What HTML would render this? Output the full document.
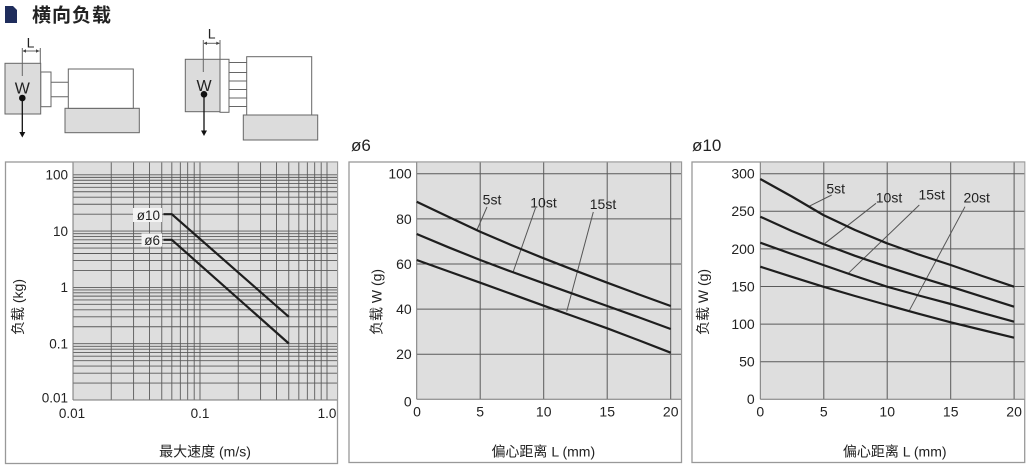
<!DOCTYPE html>
<html><head><meta charset="utf-8">
<style>
html,body{margin:0;padding:0;background:#fff;}
svg{display:block;}
text{font-family:"Liberation Sans","Noto Sans CJK SC",sans-serif;fill:#222;}
</style></head>
<body>
<svg width="1031" height="471" viewBox="0 0 1031 471" xmlns="http://www.w3.org/2000/svg">
<rect width="1031" height="471" fill="#fff"/>

<!-- Header -->
<polygon points="5,6 13,6 17,10 17,23 5,23" fill="#1f2d5c"/>
<text x="32" y="21.5" font-size="19" font-weight="bold" letter-spacing="1" fill="#222">横向负载</text>

<!-- Left diagram -->
<g stroke="#666" stroke-width="1">
  <rect x="65" y="108.3" width="74.3" height="24.4" fill="#dcdcdc"/>
  <rect x="68.3" y="69" width="65" height="39.3" fill="#fff"/>
  <line x1="51" y1="82.3" x2="68.3" y2="82.3"/>
  <line x1="51" y1="96.7" x2="68.3" y2="96.7"/>
  <rect x="40.7" y="72" width="10.3" height="34.7" fill="#fff"/>
  <rect x="5" y="63.3" width="35.7" height="50.7" fill="#dcdcdc"/>
  <line x1="22.3" y1="48" x2="22.3" y2="76"/>
  <line x1="40.3" y1="48" x2="40.3" y2="63.3"/>
  <line x1="23" y1="51" x2="39.6" y2="51"/>
</g>
<polygon points="22.6,51 26,49.3 26,52.7" fill="#444"/>
<polygon points="39.3,51 36,49.3 36,52.7" fill="#444"/>
<text x="30.5" y="47.5" font-size="14" text-anchor="middle">L</text>
<text x="22.3" y="93.5" font-size="16" text-anchor="middle">W</text>
<circle cx="22.3" cy="98" r="3.3" fill="#111"/>
<line x1="22.3" y1="98" x2="22.3" y2="133" stroke="#111" stroke-width="1.3"/>
<polygon points="19.3,132 25.3,132 22.3,137.5" fill="#111"/>

<!-- Right diagram -->
<g stroke="#666" stroke-width="1">
  <rect x="243.3" y="115" width="74.4" height="25" fill="#dcdcdc"/>
  <rect x="246.7" y="56.7" width="65" height="58.3" fill="#fff"/>
  <line x1="229" y1="62.5" x2="246.7" y2="62.5"/>
  <line x1="229" y1="72.5" x2="246.7" y2="72.5"/>
  <line x1="229" y1="81" x2="246.7" y2="81"/>
  <line x1="229" y1="89.5" x2="246.7" y2="89.5"/>
  <line x1="229" y1="98" x2="246.7" y2="98"/>
  <line x1="229" y1="106.5" x2="246.7" y2="106.5"/>
  <rect x="220" y="59.3" width="9" height="53" fill="#fff"/>
  <rect x="185.3" y="59.3" width="34.7" height="52.4" fill="#dcdcdc"/>
  <line x1="203.3" y1="40" x2="203.3" y2="72"/>
  <line x1="220" y1="40" x2="220" y2="59.3"/>
  <line x1="204" y1="43.3" x2="219.3" y2="43.3"/>
</g>
<polygon points="203.6,43.3 207,41.6 207,45" fill="#444"/>
<polygon points="219.7,43.3 216.3,41.6 216.3,45" fill="#444"/>
<text x="211.7" y="38.5" font-size="14" text-anchor="middle">L</text>
<text x="204" y="91" font-size="16" text-anchor="middle">W</text>
<circle cx="204" cy="94.3" r="3.3" fill="#111"/>
<line x1="204" y1="94.3" x2="204" y2="131.5" stroke="#111" stroke-width="1.3"/>
<polygon points="201,130.5 207,130.5 204,136" fill="#111"/>

<!-- ================= LEFT CHART ================= -->
<rect x="5.5" y="162" width="332" height="301.5" fill="#fff" stroke="#999" stroke-width="1.3"/>
<rect x="73" y="162.5" width="264" height="237.5" fill="#dedede"/>
<g stroke="#5a5a5a" stroke-width="0.9">
  <!-- vertical -->
  <line x1="111.23" y1="162.5" x2="111.23" y2="400"/>
  <line x1="133.59" y1="162.5" x2="133.59" y2="400"/>
  <line x1="149.46" y1="162.5" x2="149.46" y2="400"/>
  <line x1="161.77" y1="162.5" x2="161.77" y2="400"/>
  <line x1="171.83" y1="162.5" x2="171.83" y2="400"/>
  <line x1="180.33" y1="162.5" x2="180.33" y2="400"/>
  <line x1="187.69" y1="162.5" x2="187.69" y2="400"/>
  <line x1="194.19" y1="162.5" x2="194.19" y2="400"/>
  <line x1="200" y1="162.5" x2="200" y2="400"/>
  <line x1="238.23" y1="162.5" x2="238.23" y2="400"/>
  <line x1="260.59" y1="162.5" x2="260.59" y2="400"/>
  <line x1="276.46" y1="162.5" x2="276.46" y2="400"/>
  <line x1="288.77" y1="162.5" x2="288.77" y2="400"/>
  <line x1="298.83" y1="162.5" x2="298.83" y2="400"/>
  <line x1="307.33" y1="162.5" x2="307.33" y2="400"/>
  <line x1="314.69" y1="162.5" x2="314.69" y2="400"/>
  <line x1="321.19" y1="162.5" x2="321.19" y2="400"/>
  <line x1="327" y1="162.5" x2="327" y2="400"/>
  <!-- horizontal -->
  <line x1="73" y1="383.05" x2="337" y2="383.05"/>
  <line x1="73" y1="373.14" x2="337" y2="373.14"/>
  <line x1="73" y1="366.1" x2="337" y2="366.1"/>
  <line x1="73" y1="360.65" x2="337" y2="360.65"/>
  <line x1="73" y1="356.19" x2="337" y2="356.19"/>
  <line x1="73" y1="352.42" x2="337" y2="352.42"/>
  <line x1="73" y1="349.16" x2="337" y2="349.16"/>
  <line x1="73" y1="346.28" x2="337" y2="346.28"/>
  <line x1="73" y1="343.7" x2="337" y2="343.7"/>
  <line x1="73" y1="326.75" x2="337" y2="326.75"/>
  <line x1="73" y1="316.84" x2="337" y2="316.84"/>
  <line x1="73" y1="309.8" x2="337" y2="309.8"/>
  <line x1="73" y1="304.35" x2="337" y2="304.35"/>
  <line x1="73" y1="299.89" x2="337" y2="299.89"/>
  <line x1="73" y1="296.12" x2="337" y2="296.12"/>
  <line x1="73" y1="292.86" x2="337" y2="292.86"/>
  <line x1="73" y1="289.98" x2="337" y2="289.98"/>
  <line x1="73" y1="287.4" x2="337" y2="287.4"/>
  <line x1="73" y1="270.45" x2="337" y2="270.45"/>
  <line x1="73" y1="260.54" x2="337" y2="260.54"/>
  <line x1="73" y1="253.5" x2="337" y2="253.5"/>
  <line x1="73" y1="248.05" x2="337" y2="248.05"/>
  <line x1="73" y1="243.59" x2="337" y2="243.59"/>
  <line x1="73" y1="239.82" x2="337" y2="239.82"/>
  <line x1="73" y1="236.56" x2="337" y2="236.56"/>
  <line x1="73" y1="233.68" x2="337" y2="233.68"/>
  <line x1="73" y1="231.1" x2="337" y2="231.1"/>
  <line x1="73" y1="214.15" x2="337" y2="214.15"/>
  <line x1="73" y1="204.24" x2="337" y2="204.24"/>
  <line x1="73" y1="197.2" x2="337" y2="197.2"/>
  <line x1="73" y1="191.75" x2="337" y2="191.75"/>
  <line x1="73" y1="187.29" x2="337" y2="187.29"/>
  <line x1="73" y1="183.52" x2="337" y2="183.52"/>
  <line x1="73" y1="180.26" x2="337" y2="180.26"/>
  <line x1="73" y1="177.38" x2="337" y2="177.38"/>
  <line x1="73" y1="174.8" x2="337" y2="174.8"/>
</g>
<line x1="73" y1="162.5" x2="73" y2="400" stroke="#777" stroke-width="1"/>
<line x1="73" y1="400" x2="337" y2="400" stroke="#777" stroke-width="1"/>
<!-- label boxes -->
<rect x="133" y="208" width="29" height="14" fill="#f4f4f4"/>
<rect x="141.5" y="233.5" width="20.5" height="13" fill="#f4f4f4"/>
<text x="160" y="220" font-size="13.5" text-anchor="end">ø10</text>
<text x="160" y="245" font-size="13.5" text-anchor="end">ø6</text>
<g fill="none" stroke="#1e1e1e" stroke-width="2.2" stroke-linejoin="round">
  <polyline points="163.5,214.2 171.8,214.2 288.8,316.8"/>
  <polyline points="163.5,239.8 171.8,239.8 288.8,343.5"/>
</g>
<g font-size="13.5" text-anchor="end">
  <text x="68" y="179.5">100</text>
  <text x="68" y="235.8">10</text>
  <text x="68" y="292">1</text>
  <text x="68" y="348.4">0.1</text>
  <text x="68" y="402.6">0.01</text>
</g>
<g font-size="13.5" text-anchor="middle">
  <text x="72" y="418">0.01</text>
  <text x="200" y="418">0.1</text>
  <text x="327" y="418">1.0</text>
</g>
<text x="205" y="456.5" font-size="14" text-anchor="middle">最大速度 (m/s)</text>
<text transform="translate(23,307) rotate(-90)" font-size="14" text-anchor="middle">负载 (kg)</text>

<!-- ================= MIDDLE CHART ================= -->
<text x="351" y="151" font-size="17">ø6</text>
<rect x="349" y="162" width="332.5" height="300.5" fill="#fff" stroke="#999" stroke-width="1.3"/>
<rect x="416.7" y="162.5" width="264.3" height="236.8" fill="#dedede"/>
<g stroke="#5a5a5a" stroke-width="1">
  <line x1="480.2" y1="162.5" x2="480.2" y2="399.3"/>
  <line x1="543.7" y1="162.5" x2="543.7" y2="399.3"/>
  <line x1="607.2" y1="162.5" x2="607.2" y2="399.3"/>
  <line x1="670.7" y1="162.5" x2="670.7" y2="399.3"/>
  <line x1="416.7" y1="354.2" x2="681" y2="354.2"/>
  <line x1="416.7" y1="309.1" x2="681" y2="309.1"/>
  <line x1="416.7" y1="264" x2="681" y2="264"/>
  <line x1="416.7" y1="218.9" x2="681" y2="218.9"/>
  <line x1="416.7" y1="173.8" x2="681" y2="173.8"/>
</g>
<line x1="416.7" y1="162.5" x2="416.7" y2="399.3" stroke="#777"/>
<line x1="416.7" y1="399.3" x2="681" y2="399.3" stroke="#777"/>
<g stroke="#555" stroke-width="1" fill="none">
  <line x1="487" y1="207" x2="476.7" y2="230.5"/>
  <line x1="535.5" y1="208" x2="513.3" y2="271.5"/>
  <line x1="593.3" y1="212" x2="566.7" y2="311.5"/>
</g>
<g fill="none" stroke="#1e1e1e" stroke-width="2.2" stroke-linejoin="round">
  <polyline points="416.7,201.7 448.5,216.9 480.2,231.7 512,245.4 543.7,258.3 575.5,270.7 607.2,282.7 639,294.5 670.7,306"/>
  <polyline points="416.7,234 448.5,247.3 480.2,260 512,271.9 543.7,283.3 575.5,294.7 607.2,306 639,317.4 670.7,329"/>
  <polyline points="416.7,260 448.5,271.4 480.2,282.7 512,294.2 543.7,305.7 575.5,317 607.2,328.3 639,340.4 670.7,352.7"/>
</g>
<g font-size="14" text-anchor="middle">
  <text x="492" y="204.5">5st</text>
  <text x="543.5" y="207.5">10st</text>
  <text x="603" y="209">15st</text>
</g>
<g font-size="14" text-anchor="end">
  <text x="411.7" y="178.7">100</text>
  <text x="411.7" y="223.8">80</text>
  <text x="411.7" y="268.9">60</text>
  <text x="411.7" y="314">40</text>
  <text x="411.7" y="359.1">20</text>
  <text x="411.7" y="406.6">0</text>
</g>
<g font-size="14" text-anchor="middle">
  <text x="417" y="416.6">0</text>
  <text x="480.2" y="416.6">5</text>
  <text x="543.7" y="416.6">10</text>
  <text x="607.2" y="416.6">15</text>
  <text x="670.7" y="416.6">20</text>
</g>
<text x="543.3" y="456.5" font-size="14" text-anchor="middle">偏心距离 L (mm)</text>
<text transform="translate(381.5,302) rotate(-90)" font-size="14" text-anchor="middle">负载 W (g)</text>

<!-- ================= RIGHT CHART ================= -->
<text x="692" y="151" font-size="17">ø10</text>
<rect x="692" y="162" width="332.7" height="300.5" fill="#fff" stroke="#999" stroke-width="1.3"/>
<rect x="760.3" y="162.5" width="264" height="236.8" fill="#dedede"/>
<g stroke="#5a5a5a" stroke-width="1">
  <line x1="823.8" y1="162.5" x2="823.8" y2="399.3"/>
  <line x1="887.2" y1="162.5" x2="887.2" y2="399.3"/>
  <line x1="950.7" y1="162.5" x2="950.7" y2="399.3"/>
  <line x1="1014.1" y1="162.5" x2="1014.1" y2="399.3"/>
  <line x1="760.3" y1="361.7" x2="1024.3" y2="361.7"/>
  <line x1="760.3" y1="324.1" x2="1024.3" y2="324.1"/>
  <line x1="760.3" y1="286.5" x2="1024.3" y2="286.5"/>
  <line x1="760.3" y1="248.9" x2="1024.3" y2="248.9"/>
  <line x1="760.3" y1="211.3" x2="1024.3" y2="211.3"/>
  <line x1="760.3" y1="173.7" x2="1024.3" y2="173.7"/>
</g>
<line x1="760.3" y1="162.5" x2="760.3" y2="399.3" stroke="#777"/>
<line x1="760.3" y1="399.3" x2="1024.3" y2="399.3" stroke="#777"/>
<g stroke="#555" stroke-width="1" fill="none">
  <line x1="831.7" y1="195" x2="808.3" y2="206.7"/>
  <line x1="876" y1="203.3" x2="825" y2="243.3"/>
  <line x1="919.3" y1="205" x2="848.3" y2="273.3"/>
  <line x1="965" y1="206.7" x2="908.7" y2="311.7"/>
</g>
<g fill="none" stroke="#1e1e1e" stroke-width="2.2" stroke-linejoin="round">
  <polyline points="760.3,179 791.8,196.5 823.3,215 855,230 887,243.3 918.8,254.6 950.7,265 982.3,276 1014,286.7"/>
  <polyline points="760.3,216.7 791.8,231 823.3,244 855,255.8 887,266.7 918.8,276.9 950.7,286.7 982.3,296.7 1014,306.7"/>
  <polyline points="760.3,242.7 791.8,254 823.3,265 855,276 887,286.7 918.8,295.5 950.7,304 982.3,312.9 1014,321.7"/>
  <polyline points="760.3,266.7 791.8,276.8 823.3,286.7 855,296 887,305 918.8,313.8 950.7,322.3 982.3,330 1014,337.7"/>
</g>
<g font-size="14" text-anchor="middle">
  <text x="835.7" y="193.3">5st</text>
  <text x="889" y="202.3">10st</text>
  <text x="931.7" y="199.3">15st</text>
  <text x="976.7" y="202.7">20st</text>
</g>
<g font-size="14" text-anchor="end">
  <text x="754.7" y="178.6">300</text>
  <text x="754.7" y="216.2">250</text>
  <text x="754.7" y="253.8">200</text>
  <text x="754.7" y="291.4">150</text>
  <text x="754.7" y="329">100</text>
  <text x="754.7" y="366.6">50</text>
  <text x="754.7" y="404">0</text>
</g>
<g font-size="14" text-anchor="middle">
  <text x="760.3" y="416.6">0</text>
  <text x="823.8" y="416.6">5</text>
  <text x="887.2" y="416.6">10</text>
  <text x="950.7" y="416.6">15</text>
  <text x="1014.1" y="416.6">20</text>
</g>
<text x="894.7" y="456.5" font-size="14" text-anchor="middle">偏心距离 L (mm)</text>
<text transform="translate(708,302) rotate(-90)" font-size="14" text-anchor="middle">负载 W (g)</text>
</svg>
</body></html>
